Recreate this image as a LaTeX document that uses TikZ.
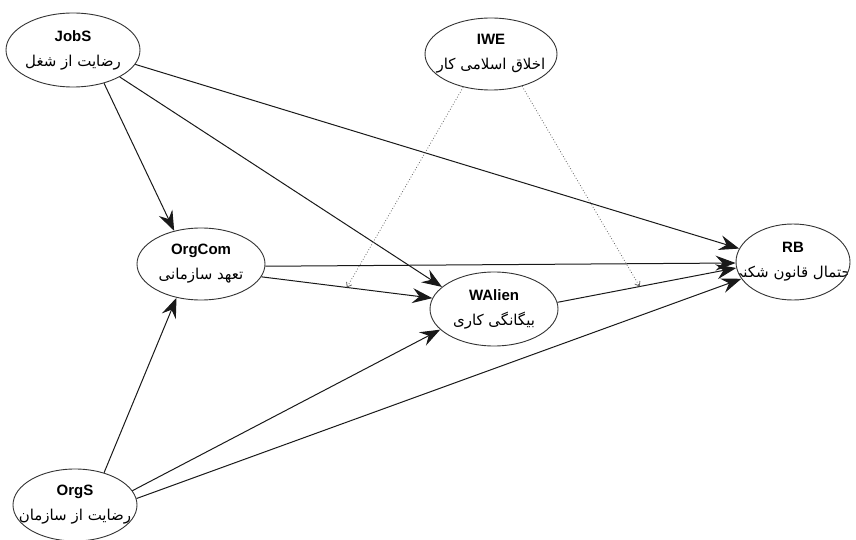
\documentclass[tikz,border=0pt]{standalone}
\usepackage{fontspec}
\setmainfont{Liberation Sans}
\newfontfamily\arabicfont[Script=Arabic]{DejaVu Sans}
\TeXXeTstate=1
\usetikzlibrary{arrows.meta,shapes.geometric}
\tikzset{
  var/.style={ellipse, draw=black!80, line width=0.9pt, fill=white, inner sep=0pt},
  vtext/.style={path picture={\node[align=center, font=\fontsize{15}{25}\selectfont, inner sep=0pt]
      at (path picture bounding box.center) {#1};}},
  path/.style={draw=black!90, line width=1pt, -{Stealth[length=20pt,width=15pt,inset=7pt]}},
  modline/.style={draw=black!60, line width=0.8pt, dotted, -{Straight Barb[length=4pt,width=6pt]}}
}
\newcommand{\fafont}{\arabicfont\fontsize{15}{25}\selectfont}
\begin{document}
\begin{tikzpicture}[x=1pt,y=-1pt]
\useasboundingbox (0,0) rectangle (856,540);
\node[var, minimum width=134pt, minimum height=74pt, vtext={\textbf{JobS}\\{\fafont\beginR رضایت از شغل\endR}}] (JobS) at (73,50) {};
\node[var, minimum width=132pt, minimum height=72pt, vtext={\textbf{IWE}\\{\fafont\beginR اخلاق اسلامی کار\endR}}] (IWE) at (491,54) {};
\node[var, minimum width=128pt, minimum height=72pt, vtext={\textbf{OrgCom}\\{\fafont\beginR تعهد سازمانی\endR}}] (OrgCom) at (201,264) {};
\node[var, minimum width=128pt, minimum height=74pt, vtext={\textbf{WAlien}\\{\fafont\beginR بیگانگی کاری\endR}}] (WAlien) at (494,309) {};
\node[var, minimum width=114pt, minimum height=76pt, vtext={\textbf{RB}\\{\fafont\beginR احتمال قانون شکنی\endR}}] (RB) at (793,262) {};
\node[var, minimum width=124pt, minimum height=72pt, vtext={\textbf{OrgS}\\{\fafont\beginR رضایت از سازمان\endR}}] (OrgS) at (75,505) {};

\draw[path] (JobS.-47) -- (OrgCom.129);
\draw[path] (JobS.-30) -- (WAlien.157);
\draw[path] (JobS.-13) -- (RB.166);
\draw[path] (OrgCom.-2) -- (RB.181);
\draw[path] (OrgCom.-12) -- coordinate[pos=0.5] (m1) (WAlien.170);
\draw[path] (WAlien.6) -- coordinate[pos=0.46] (m2) (RB.186);
\draw[path] (OrgS.48) -- (OrgCom.-126);
\draw[path] (OrgS.14) -- (WAlien.-159);
\draw[path] (OrgS.6) -- (RB.198);

\draw[modline] (IWE.-130) -- (m1);
\draw[modline] (IWE.-46) -- (m2);
\end{tikzpicture}
\end{document}
